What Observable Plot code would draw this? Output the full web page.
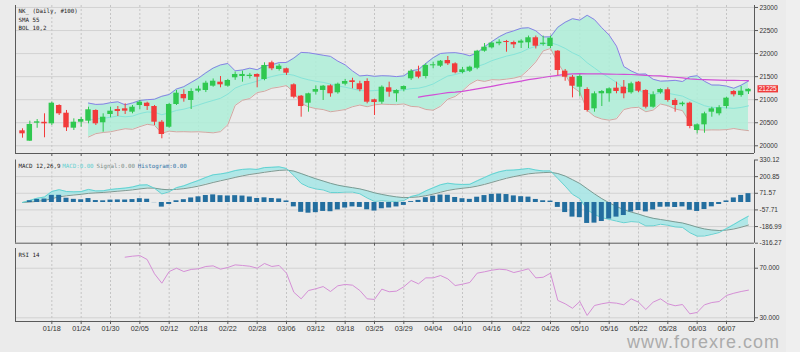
<!DOCTYPE html>
<html><head><meta charset="utf-8">
<script src="https://cdn.jsdelivr.net/npm/d3@7"></script>
<script src="https://cdn.jsdelivr.net/npm/@observablehq/plot@0.6"></script>
<style>
html,body{margin:0;padding:0;background:#ebebeb;}
#wrap{position:relative;width:800px;height:352px;overflow:hidden;background:#ebebeb;font-family:"Liberation Sans",Arial,sans-serif;}
#strip{position:absolute;left:786px;top:0;width:14px;height:352px;background:#efefef;}
#wrap svg{position:absolute;left:0;}
#wm{position:absolute;left:627px;top:331.9px;height:20px;line-height:20px;font-size:18px;color:#ababab;font-family:"Liberation Sans",Arial,sans-serif;letter-spacing:1px;white-space:nowrap;}
</style></head><body><div id="wrap"><div id="strip"></div></div>
<script>
// ---- data ----
const openP  = [20325,20100,20490,20510,20477,20874,20707,20382,20512,20534,20766,20499,20679,20787,20802,20729,20874,20924,20852,20512,
  20403,20896,21113,20983,21185,21200,21293,21380,21293,21475,21503,21503,21547,21438,21800,21655,21670,21323,21076,20924,
  21163,21200,21300,21150,21336,21410,21345,21395,20998,20946,21258,21128,21215,21453,21605,21503,21735,21727,21850,21778,
  21590,21618,21683,22052,22125,22213,22262,22240,22226,22234,22343,22200,22154,22052,21618,21488,21271,21221,20802,21128,
  21128,21250,21271,21150,21380,21200,20837,21150,21215,20983,20890,20924,20332,20455,20729,20694,20852,21178,21090,21171];
const highP  = [20369,20534,20570,20694,20946,20889,20766,20585,20620,20837,20781,20694,20837,20852,20911,20874,20983,20946,20874,20549,
  20920,21200,21215,21236,21293,21400,21450,21503,21440,21600,21620,21570,21560,21800,21835,21770,21685,21345,21091,21141,
  21300,21308,21323,21360,21440,21466,21400,21453,21011,21300,21380,21215,21300,21655,21727,21780,21813,21850,21937,21800,
  21700,21727,22070,22218,22250,22300,22285,22270,22300,22380,22380,22380,22380,22066,21655,21525,21540,21258,21170,21200,
  21258,21380,21416,21380,21395,21215,21170,21236,21258,21020,20950,20946,20477,20729,20837,20870,21054,21200,21286,21236];
const lowP   = [20165,20095,20380,20174,20440,20657,20310,20332,20403,20477,20440,20295,20607,20636,20679,20694,20781,20766,20440,20152,
  20380,20874,20946,20787,21150,21155,21270,21258,21270,21420,21380,21450,21258,21410,21630,21620,21525,21020,20620,20729,
  21100,20983,21054,21120,21300,21236,21170,20911,20657,20900,21054,20946,21170,21417,21453,21450,21670,21700,21742,21560,
  21560,21590,21650,22030,22100,22170,22030,22110,22110,22110,22100,22160,22110,21525,21400,21040,21060,20729,20729,20852,
  20946,21128,21020,21120,21150,20800,20815,21120,20946,20729,20850,20369,20260,20273,20620,20650,20800,21060,21054,21113];
const closeP = [20260,20462,20520,20477,20924,20694,20390,20512,20570,20781,20477,20620,20751,20744,20751,20837,20946,20852,20512,20245,
  20896,21141,21020,21178,21230,21358,21401,21323,21416,21547,21547,21530,21488,21742,21670,21727,21575,21054,20852,21128,
  21221,21293,21128,21336,21395,21373,21215,20946,20939,21271,21163,21200,21286,21618,21488,21742,21757,21835,21778,21583,
  21648,21705,22052,22139,22226,22247,22240,22190,22270,22343,22160,22226,22334,21633,21488,21293,21503,20766,21128,21178,
  21236,21178,21128,21345,21185,20837,21106,21221,20983,20874,20924,20419,20455,20694,20802,20824,21033,21106,21185,21225];
// RSI 14 as drawn (first value at bar 14)
const rsiStart = 14;
const rsiVals = [78.9,79.7,80.2,77.0,65.5,57.9,67.3,70.0,67.3,69.0,69.5,71.4,71.9,69.2,70.6,72.7,72.2,71.6,70.0,73.8,
  71.4,72.2,66.0,50.6,45.3,52.0,53.4,55.2,51.2,55.8,56.9,56.3,52.0,45.3,44.8,53.1,51.0,51.5,55.0,60.1,
  57.4,62.2,62.2,64.1,61.4,56.0,57.1,58.5,66.0,67.1,68.4,69.2,68.7,66.5,67.9,69.5,62.2,62.7,66.0,44.0,
  41.3,37.7,43.1,31.9,39.9,41.3,42.3,41.8,40.5,45.3,42.6,36.7,42.6,45.3,41.3,39.7,40.7,33.2,34.3,40.5,
  42.3,43.1,48.0,49.8,51.2,52.3];
const dateTickIdx = [4,8,12,16,20,24,28,32,36,40,44,48,52,56,60,64,68,72,76,80,84,88,92,96];
const dateLabels = ["01/18","01/24","01/30","02/05","02/12","02/18","02/22","02/28","03/06","03/12","03/18","03/25",
  "03/29","04/04","04/10","04/16","04/22","04/26","05/10","05/16","05/22","05/28","06/03","06/07"];
const priceTicks = [20000,20500,21000,21500,22000,22500,23000];
const macdTicks = [330.12,200.85,71.57,-57.71,-186.99,-316.27];
const rsiTicks = [70,30];

// ---- indicators derived from the closes (BOL 10,2 / SMA 55 / MACD 12,26,9) ----
function emaOf(a,n){const k=2/(n+1);let e=a[0];return a.map((v,i)=>(e=i===0?v:e+k*(v-e)));}
const bars = closeP.map((c,i)=>({i,o:openP[i],h:highP[i],l:lowP[i],c}));
const boll = [];
for(let i=9;i<closeP.length;i++){const w=closeP.slice(i-9,i+1);const m=d3.mean(w);const sd=Math.sqrt(d3.mean(w,v=>(v-m)**2));boll.push({i,mid:m,up:m+2*sd,lo:m-2*sd});}
const sma = [];
for(let i=54;i<closeP.length;i++){sma.push({i,v:d3.mean(closeP.slice(i-54,i+1))});}
const e12=emaOf(closeP,12), e26=emaOf(closeP,26);
const dif=closeP.map((c,i)=>e12[i]-e26[i]);
let dea=0;const macd=dif.map((d,i)=>{dea=i===0?d:dea+0.2*(d-dea);return {i,dif:d,dea,hist:d-dea};});
const rsi = rsiVals.map((v,k)=>({i:rsiStart+k,v}));

const green="#30c850", red="#f23b3b";
const X = {type:"linear",domain:[-0.955,99.82]};
const base = {width:800,marginLeft:15,marginRight:46,
  style:{background:"transparent",fontFamily:"'Liberation Sans',Arial,sans-serif",fontSize:"6.5px",color:"#333",overflow:"visible"}};
const frameCol="#5a5a5a", gridCol="#d2d2d2", vgridCol="#c4c4c4";
const lblFont="'DejaVu Sans Mono',monospace";
const wrap=document.getElementById("wrap");
function place(svg,top){svg.style.top=top+"px";wrap.appendChild(svg);return svg;}

// Panel 1: price
const yP=[19833,23043];
const p1 = Plot.plot({...base,height:158,marginTop:5,marginBottom:5,x:{...X,axis:null},y:{domain:yP,axis:null},
  marks:[
    Plot.gridY(priceTicks,{stroke:gridCol,strokeOpacity:1}),
    Plot.gridX(dateTickIdx,{stroke:vgridCol,strokeOpacity:1,strokeDasharray:"2,2"}),
    Plot.areaY(boll,{x:"i",y1:"lo",y2:"up",fill:"#aeeed8",fillOpacity:0.85}),
    Plot.lineY(boll,{x:"i",y:"mid",stroke:"#86e4d8",strokeWidth:1}),
    Plot.lineY(boll,{x:"i",y:"up",stroke:"#8a80e6",strokeWidth:1}),
    Plot.lineY(boll,{x:"i",y:"lo",stroke:"#cfa9a2",strokeWidth:1}),
    Plot.lineY(sma,{x:"i",y:"v",stroke:"#d24fd6",strokeWidth:1.2}),
    Plot.ruleX(bars,{x:"i",y1:"l",y2:"h",stroke:d=>d.c>=d.o?green:red,strokeWidth:1}),
    Plot.rect(bars,{x1:d=>d.i-0.37,x2:d=>d.i+0.37,y1:"o",y2:"c",fill:d=>d.c>=d.o?green:red}),
    Plot.ruleX([X.domain[0]],{stroke:frameCol}),
    Plot.ruleX([X.domain[1]],{stroke:frameCol}),
    Plot.ruleY([yP[0]],{stroke:frameCol}),
    Plot.axisX(dateTickIdx,{tickSize:3,tickFormat:()=>"",stroke:frameCol,label:null}),
    Plot.axisY(priceTicks,{anchor:"right",tickSize:3,tickPadding:2,tickFormat:d=>String(d),label:null,fontSize:6.5,stroke:frameCol}),
    Plot.text(["NK_ (Daily, #100)\nSMA 55\nBOL 10,2"],{frameAnchor:"top-left",dx:3,dy:1.5,fontSize:5.8,lineHeight:1.47,fontFamily:lblFont,fill:"#222"})
  ]});
place(p1,0);
// last price tag
{const yv=p1.scale("y").apply(closeP[closeP.length-1]);
 const g=d3.select(p1).append("g");
 g.append("rect").attr("x",757.5).attr("y",yv-3.6).attr("width",20.5).attr("height",7.2).attr("fill","#f03c3c");
 g.append("text").attr("x",767.7).attr("y",yv).attr("dy","0.35em").attr("text-anchor","middle").attr("fill","#fff")
  .attr("font-size","6.5px").attr("font-family","'Liberation Sans',Arial,sans-serif").text(String(closeP[closeP.length-1]));}

// Panel 2: MACD
const yM=[-316.27,330.12];
const p2 = Plot.plot({...base,height:90,marginTop:4.5,marginBottom:2.3,x:{...X,axis:null},y:{domain:yM,axis:null},
  marks:[
    Plot.gridY(macdTicks.slice(1,5),{stroke:gridCol,strokeOpacity:1}),
    Plot.gridX(dateTickIdx,{stroke:vgridCol,strokeOpacity:1,strokeDasharray:"2,2"}),
    Plot.areaY(macd,{x:"i",y1:"dif",y2:"dea",fill:"#a6e6e6",fillOpacity:0.85}),
    Plot.lineY(macd,{x:"i",y:"dea",stroke:"#7d9a92",strokeWidth:1}),
    Plot.lineY(macd,{x:"i",y:"dif",stroke:"#63d2d2",strokeWidth:1}),
    Plot.rect(macd,{x1:d=>d.i-0.34,x2:d=>d.i+0.34,y1:0,y2:"hist",fill:"#236e9f"}),
    Plot.ruleX([X.domain[0]],{stroke:frameCol}),
    Plot.ruleX([X.domain[1]],{stroke:frameCol}),
    Plot.ruleY([yM[0]],{stroke:frameCol}),
    Plot.axisX(dateTickIdx,{tickSize:3,tickFormat:()=>"",stroke:frameCol,label:null}),
    Plot.axisY(macdTicks,{anchor:"right",tickSize:3,tickPadding:2,tickFormat:d=>d.toFixed(2),label:null,fontSize:6.5,stroke:frameCol}),
    Plot.text(["MACD 12,26,9"],{frameAnchor:"top-left",dx:3,dy:3.5,fontSize:5.8,fontFamily:lblFont,fill:"#222"}),
    Plot.text(["MACD:0.00"],{frameAnchor:"top-left",dx:46.7,dy:3.5,fontSize:5.8,fontFamily:lblFont,fill:"#5fd0d0"}),
    Plot.text(["Signal:0.00"],{frameAnchor:"top-left",dx:81,dy:3.5,fontSize:5.8,fontFamily:lblFont,fill:"#7d8f8a"}),
    Plot.text(["Histogram:0.00"],{frameAnchor:"top-left",dx:122.3,dy:3.5,fontSize:5.8,fontFamily:lblFont,fill:"#2f74a6"})
  ]});
place(p2,155);

// Panel 3: RSI
const yR=[27.0,85.9];
const p3 = Plot.plot({...base,height:107,marginTop:3,marginBottom:31,x:{...X,axis:null},y:{domain:yR,axis:null},
  marks:[
    Plot.gridY(rsiTicks,{stroke:gridCol,strokeOpacity:1}),
    Plot.gridX(dateTickIdx,{stroke:vgridCol,strokeOpacity:1,strokeDasharray:"2,2"}),
    Plot.lineY(rsi,{x:"i",y:"v",stroke:"#d58fd6",strokeWidth:1}),
    Plot.ruleX([X.domain[0]],{stroke:frameCol}),
    Plot.ruleX([X.domain[1]],{stroke:frameCol}),
    Plot.ruleY([yR[0]],{stroke:frameCol}),
    Plot.axisX(dateTickIdx,{tickSize:3,tickPadding:1,tickFormat:(d,k)=>dateLabels[k],label:null,fontSize:7.2,stroke:frameCol}),
    Plot.axisY(rsiTicks,{anchor:"right",tickSize:3,tickPadding:2,tickFormat:d=>d.toFixed(3),label:null,fontSize:6.5,stroke:frameCol}),
    Plot.text(["RSI 14"],{frameAnchor:"top-left",dx:3,dy:4.5,fontSize:5.8,fontFamily:lblFont,fill:"#222"})
  ]});
place(p3,245);

const wm=document.createElement("div");wm.id="wm";wm.textContent="www.forexre.com";wrap.appendChild(wm);
</script></body></html>
